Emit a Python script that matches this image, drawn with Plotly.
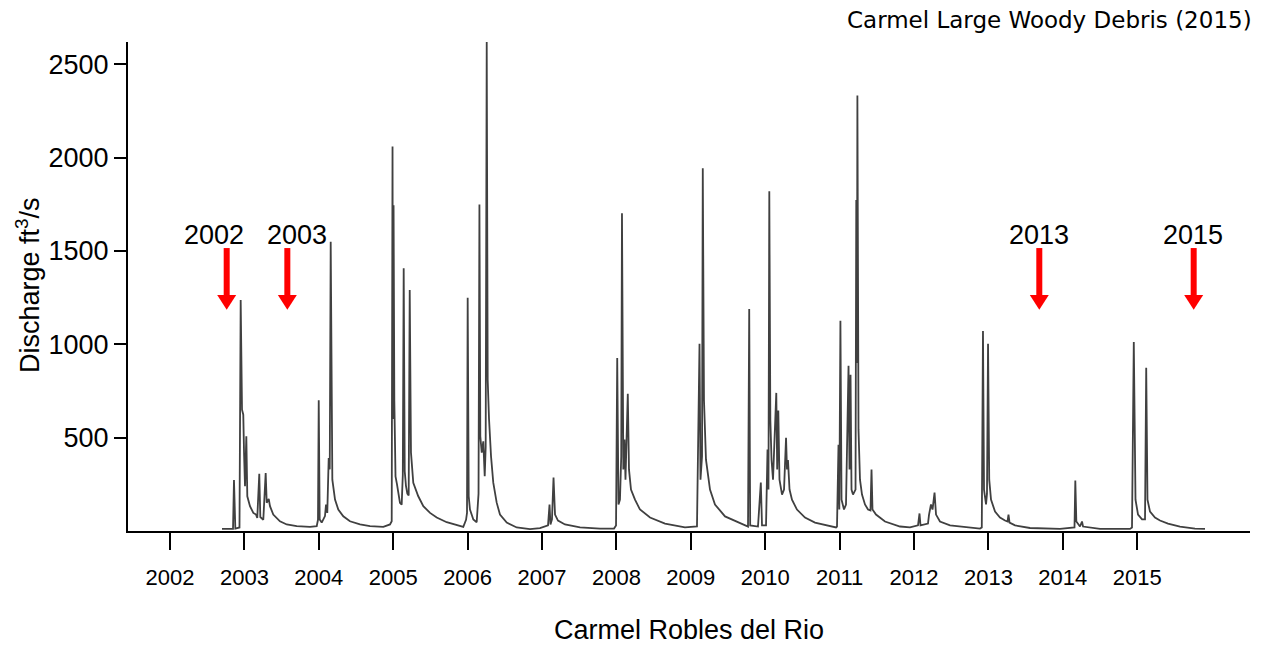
import plotly.graph_objects as go

# ---------------- data (time in decimal years, discharge in ft3/s) ----------------
t_wy2003 = [2002.699, 2002.847, 2002.860, 2002.878, 2002.934, 2002.950, 2002.968, 2002.985,
            2002.995, 2003.008, 2003.026, 2003.039, 2003.075, 2003.120, 2003.156, 2003.173,
            2003.200, 2003.214, 2003.254, 2003.286, 2003.300, 2003.327, 2003.344, 2003.388,
            2003.478, 2003.569, 2003.703, 2003.882]
q_wy2003 = [11, 11, 273, 13, 19, 1238, 650, 623,
            420, 240, 507, 186, 133, 97, 88, 70,
            307, 75, 60, 311, 151, 172, 133, 88,
            52, 35, 26, 22]

t_wy2004 = [2003.972, 2003.989, 2003.999, 2004.012, 2004.039, 2004.083, 2004.097, 2004.114,
            2004.133, 2004.147, 2004.160, 2004.182, 2004.218, 2004.262, 2004.329, 2004.419,
            2004.554, 2004.688, 2004.867, 2004.957]
q_wy2004 = [26, 60, 700, 62, 45, 80, 141, 97,
            391, 330, 1550, 275, 168, 115, 79, 52,
            35, 26, 22, 35]

t_wy2005 = [2004.980, 2004.991, 2004.997, 2005.005, 2005.015, 2005.031, 2005.051, 2005.078,
            2005.091, 2005.114, 2005.129, 2005.141, 2005.155, 2005.172, 2005.190, 2005.208,
            2005.222, 2005.239, 2005.270, 2005.337, 2005.405, 2005.495, 2005.585, 2005.719,
            2005.854, 2005.942]
q_wy2005 = [52, 2060, 600, 1745, 700, 293, 250, 168,
            151, 141, 300, 1408, 320, 240, 200, 190,
            1291, 420, 258, 186, 133, 97, 72, 47,
            30, 22]

t_wy2006 = [2005.979, 2005.992, 2006.001, 2006.015, 2006.032, 2006.077, 2006.122, 2006.147,
            2006.159, 2006.171, 2006.190, 2006.211, 2006.230, 2006.243, 2006.257, 2006.270,
            2006.288, 2006.315, 2006.345, 2006.391, 2006.435, 2006.526, 2006.660, 2006.839,
            2006.973]
q_wy2006 = [60, 97, 1250, 186, 115, 62, 47, 200,
            1750, 507, 420, 480, 293, 450, 2620, 810,
            600, 400, 259, 152, 88, 45, 19, 10,
            15]

t_wy2007 = [2007.081, 2007.101, 2007.114, 2007.134, 2007.155, 2007.175, 2007.215, 2007.309,
            2007.511, 2007.780, 2007.968]
q_wy2007 = [30, 142, 35, 62, 286, 88, 56, 35,
            19, 13, 13]

t_wy2008 = [2007.995, 2008.011, 2008.028, 2008.048, 2008.065, 2008.075, 2008.093, 2008.109,
            2008.122, 2008.153, 2008.169, 2008.196, 2008.250, 2008.317, 2008.452, 2008.653,
            2008.922]
q_wy2008 = [30, 927, 142, 168, 400, 1703, 330, 490,
            275, 735, 330, 222, 168, 115, 72, 40,
            19]

t_wy2009 = [2009.083, 2009.117, 2009.130, 2009.151, 2009.161, 2009.177, 2009.204, 2009.258,
            2009.325, 2009.460, 2009.661, 2009.769, 2009.785, 2009.798, 2009.903, 2009.941,
            2009.957]
q_wy2009 = [24, 1003, 275, 400, 1944, 703, 382, 222,
            142, 78, 40, 24, 1190, 30, 24, 260,
            30]

t_wy2010 = [2010.011, 2010.031, 2010.044, 2010.055, 2010.069, 2010.085, 2010.105, 2010.125,
            2010.149, 2010.161, 2010.176, 2010.192, 2010.226, 2010.253, 2010.280, 2010.293,
            2010.306, 2010.327, 2010.360, 2010.427, 2010.535, 2010.669, 2010.871, 2010.952]
q_wy2010 = [30, 436, 222, 1821, 596, 382, 275, 490,
            740, 330, 645, 275, 195, 222, 500, 330,
            380, 222, 168, 115, 72, 45, 24, 19]

t_wy2011 = [2010.965, 2010.985, 2010.996, 2011.011, 2011.026, 2011.059, 2011.086, 2011.120,
            2011.133, 2011.147, 2011.160, 2011.180, 2011.214, 2011.224, 2011.233, 2011.239,
            2011.254, 2011.274, 2011.301, 2011.341, 2011.382, 2011.415, 2011.429, 2011.442,
            2011.489, 2011.610, 2011.812, 2011.946]
q_wy2011 = [24, 462, 115, 1126, 168, 115, 142, 885,
            330, 837, 222, 195, 222, 1773, 900, 2334,
            543, 275, 195, 142, 115, 110, 330, 115,
            88, 51, 24, 19]

t_wy2012 = [2012.054, 2012.074, 2012.087, 2012.188, 2012.202, 2012.228, 2012.249, 2012.276,
            2012.296, 2012.349, 2012.484, 2012.753, 2012.887]
q_wy2012 = [30, 94, 30, 40, 88, 142, 115, 206,
            88, 51, 30, 19, 13]

t_wy2013 = [2012.911, 2012.927, 2012.941, 2012.968, 2012.981, 2012.995, 2013.011, 2013.035,
            2013.089, 2013.156, 2013.223, 2013.257, 2013.270, 2013.284, 2013.358, 2013.559,
            2013.962]
q_wy2013 = [19, 1072, 222, 142, 200, 1003, 275, 168,
            104, 72, 56, 51, 88, 45, 30, 16,
            11]

t_wy2014 = [2014.157, 2014.168, 2014.182, 2014.231, 2014.258, 2014.272, 2014.500, 2014.903]
q_wy2014 = [19, 270, 51, 24, 51, 24, 11, 11]

t_wy2015 = [2014.930, 2014.954, 2014.965, 2014.977, 2015.011, 2015.065, 2015.105, 2015.121,
            2015.138, 2015.172, 2015.239, 2015.306, 2015.414, 2015.575, 2015.777, 2015.911]
q_wy2015 = [19, 1013, 414, 168, 88, 62, 62, 874,
            168, 104, 72, 56, 40, 24, 13, 11]

year_ticks = list(range(2002, 2016))
year_labels = [str(y) for y in year_ticks]
q_ticks = [500, 1000, 1500, 2000, 2500]

# survey markers (label, time of survey in decimal years)
survey_labels = ["2002", "2003", "2013", "2015"]
survey_times = [2002.762, 2003.577, 2013.684, 2015.759]
survey_label_times = [2002.598, 2003.703, 2013.676, 2015.754]

# ---------------- assemble ----------------
t_all, q_all = [], []
for t, q in [(t_wy2003, q_wy2003), (t_wy2004, q_wy2004), (t_wy2005, q_wy2005),
             (t_wy2006, q_wy2006), (t_wy2007, q_wy2007), (t_wy2008, q_wy2008),
             (t_wy2009, q_wy2009), (t_wy2010, q_wy2010), (t_wy2011, q_wy2011),
             (t_wy2012, q_wy2012), (t_wy2013, q_wy2013), (t_wy2014, q_wy2014),
             (t_wy2015, q_wy2015)]:
    t_all += t
    q_all += q

FONT = "Liberation Sans, Arial, Helvetica, sans-serif"

fig = go.Figure()
fig.add_trace(go.Scatter(x=t_all, y=q_all, mode="lines",
                         line=dict(color="#404040", width=1.8),
                         hoverinfo="x+y", showlegend=False))

shapes = []
annotations = []
for lab, ts, tl in zip(survey_labels, survey_times, survey_label_times):
    # arrow shaft
    shapes.append(dict(type="line", xref="x", yref="y", xsizemode="pixel", xanchor=ts,
                       x0=0, x1=0, y0=1250, y1=1516,
                       line=dict(color="#ff0000", width=6)))
    # arrow head
    shapes.append(dict(type="path", xref="x", yref="y", xsizemode="pixel", xanchor=ts,
                       path="M -9.5,1265 L 9.5,1265 L 0,1185 Z",
                       fillcolor="#ff0000", line=dict(color="#ff0000", width=0)))
    annotations.append(dict(x=tl, y=1586, xref="x", yref="y", text=lab, showarrow=False,
                            xanchor="center", yanchor="middle",
                            font=dict(family=FONT, size=27, color="black")))

# titles
annotations.append(dict(x=0.5, y=-0.2025, xref="paper", yref="paper",
                        text="Carmel Robles del Rio", showarrow=False,
                        xanchor="center", yanchor="middle",
                        font=dict(family=FONT, size=27, color="black")))
annotations.append(dict(x=-0.0891, y=0.503, xref="paper", yref="paper",
                        text="Discharge ft<sup>3</sup>/s", showarrow=False, textangle=-90,
                        xanchor="center", yanchor="middle",
                        font=dict(family=FONT, size=27, color="black")))
annotations.append(dict(x=1.0027, y=1.045, xref="paper", yref="paper",
                        text="Carmel Large Woody Debris (2015)", showarrow=False,
                        xanchor="right", yanchor="middle", borderpad=0,
                        font=dict(family="DejaVu Sans, Verdana, sans-serif", size=23, color="black")))

# the page places the figure 8 px from the top-left corner of the window
fig.update_layout(
    width=1255, height=638,
    margin=dict(l=120, r=13, t=34, b=115),
    paper_bgcolor="white", plot_bgcolor="white",
    shapes=shapes, annotations=annotations,
    xaxis=dict(range=[2001.4355, 2016.516], tickmode="array", tickvals=year_ticks,
               ticktext=year_labels, ticks="outside", ticklen=17, tickwidth=2,
               tickcolor="black", showline=True, linewidth=2, linecolor="black",
               showgrid=False, zeroline=False, ticklabelstandoff=9,
               tickfont=dict(family=FONT, size=22, color="black")),
    yaxis=dict(range=[0, 2620], tickmode="array", tickvals=q_ticks,
               ticks="outside", ticklen=12, tickwidth=2, tickcolor="black",
               showline=True, linewidth=2, linecolor="black",
               showgrid=False, zeroline=False, ticklabelstandoff=0,
               tickfont=dict(family=FONT, size=27, color="black")),
)

fig.write_html("out.html")
